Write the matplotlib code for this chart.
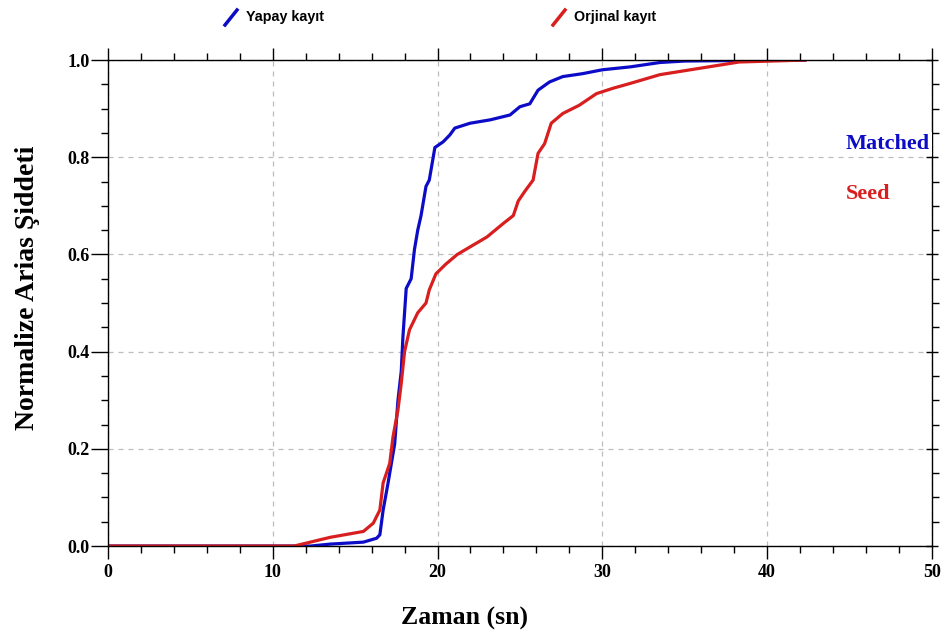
import matplotlib.pyplot as plt
from matplotlib.lines import Line2D
from matplotlib.ticker import MultipleLocator

# Normalized Arias intensity
matched_t = [0, 12.3, 13.5, 15.5, 16.3, 16.5, 16.7, 17.0, 17.4, 17.6, 17.8, 17.9,
             18.1, 18.4, 18.6, 18.8, 19.0, 19.3, 19.5, 19.84, 20.35, 20.75, 21.05,
             21.97, 23.2, 24.4, 25.0, 25.6, 26.1, 26.8, 27.6, 28.8, 30.0, 31.7,
             33.5, 35.0, 38.0, 42.3]
matched_ai = [0, 0, 0.004, 0.008, 0.016, 0.023, 0.074, 0.13, 0.21, 0.30, 0.36, 0.43,
              0.53, 0.55, 0.61, 0.65, 0.68, 0.74, 0.753, 0.82, 0.832, 0.846, 0.86,
              0.87, 0.877, 0.887, 0.904, 0.91, 0.938, 0.955, 0.966, 0.972, 0.98, 0.986,
              0.995, 0.998, 0.999, 1.0]

seed_t = [0, 11.3, 13.5, 15.5, 16.1, 16.5, 16.7, 17.1, 17.3, 17.6, 17.8, 18.0,
          18.3, 18.8, 19.3, 19.5, 19.9, 20.5, 21.2, 22.0, 23.0, 24.0, 24.6, 24.9,
          25.3, 25.8, 26.1, 26.5, 26.9, 27.6, 28.6, 29.65, 30.65, 31.7, 33.5, 35.9,
          38.3, 42.3]
seed_ai = [0, 0, 0.018, 0.03, 0.047, 0.074, 0.13, 0.17, 0.225, 0.28, 0.335, 0.40,
           0.445, 0.48, 0.50, 0.527, 0.56, 0.58, 0.60, 0.616, 0.636, 0.664, 0.68, 0.71,
           0.73, 0.753, 0.808, 0.828, 0.87, 0.89, 0.907, 0.931, 0.942, 0.952, 0.97, 0.983,
           0.996, 1.0]

BLUE = "#0c0cc8"
RED = "#d81e1e"
serif = ["Liberation Serif", "DejaVu Serif"]

fig = plt.figure(figsize=(9.47, 6.39), dpi=100)
ax = fig.add_axes([0.114, 0.1455, 0.870, 0.7605])

ax.plot(matched_t, matched_ai, color=BLUE, lw=2.3)
ax.plot(seed_t, seed_ai, color=RED, lw=2.3)

ax.set_xlim(0, 50)
ax.set_ylim(0, 1.0)
ax.xaxis.set_major_locator(MultipleLocator(10))
ax.xaxis.set_minor_locator(MultipleLocator(2))
ax.yaxis.set_major_locator(MultipleLocator(0.2))
ax.yaxis.set_minor_locator(MultipleLocator(0.05))
ax.yaxis.set_major_formatter(plt.FuncFormatter(lambda v, p: f"{v:.1f}"))

ax.grid(True, which="major", color="#bdbdbd", linestyle=(0, (4, 4)), lw=0.9)
ax.tick_params(which="both", direction="out", top=True, right=False, width=1.0)
ax.tick_params(axis="x", which="major", length=9, pad=4)
ax.tick_params(axis="x", which="minor", length=5)
ax.tick_params(axis="y", which="major", length=12, pad=1)
ax.tick_params(axis="y", which="minor", length=5)
for lbl in ax.get_xticklabels() + ax.get_yticklabels():
    lbl.set_family(serif)
    lbl.set_fontweight("bold")
    lbl.set_fontsize(13)
for s in ax.spines.values():
    s.set_linewidth(1.0)

# right-hand ticks are shorter than the left ones
ax_r = ax.twinx()
ax_r.set_ylim(ax.get_ylim())
ax_r.yaxis.set_major_locator(MultipleLocator(0.2))
ax_r.yaxis.set_minor_locator(MultipleLocator(0.05))
ax_r.tick_params(which="major", direction="inout", length=9, width=1.0, labelright=False)
ax_r.tick_params(which="minor", direction="out", length=5, width=1.0)
for s in ax_r.spines.values():
    s.set_visible(False)

ax.set_xlabel("Zaman (sn)", family=serif, fontweight="bold", fontsize=18.5)
ax.xaxis.set_label_coords(0.433, -0.125)
ax.set_ylabel("Normalize Arias Şiddeti", family=serif, fontweight="bold", fontsize=20)
ax.yaxis.set_label_coords(-0.082, 0.531)

# texts on the right inside the plot
ax_r.text(0.9975, 0.827, "Matched", transform=ax.transAxes, ha="right", va="center",
          family=serif, fontweight="bold", fontsize=16, color=BLUE, clip_on=False,
          zorder=5, bbox=dict(facecolor="white", edgecolor="none", pad=1.5))
ax.text(0.950, 0.724, "Seed", transform=ax.transAxes, ha="right", va="center",
        family=serif, fontweight="bold", fontsize=16, color=RED)

# legend at the top with slanted line icons
W, H = 947, 639
for x0, label, col in [(225, "Yapay kayıt", BLUE), (553, "Orjinal kayıt", RED)]:
    fig.add_artist(Line2D([x0 / W, (x0 + 12) / W], [1 - 25 / H, 1 - 10 / H],
                          color=col, lw=2.5, transform=fig.transFigure))
    fig.text((x0 + 21) / W, 1 - 17 / H, label, ha="left", va="center",
             family=["Liberation Sans", "DejaVu Sans"], fontsize=10.3, fontweight="bold")

fig.savefig("out.png", dpi=100)
